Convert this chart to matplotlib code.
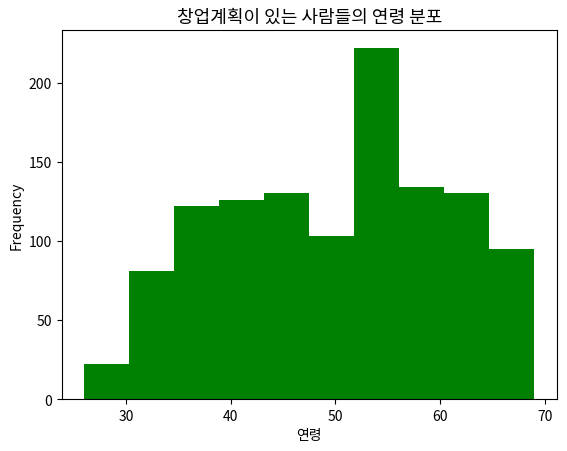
import matplotlib
matplotlib.use("Agg")
import matplotlib.pyplot as plt
import numpy as np

plt.rcParams['font.family'] = ['Noto Sans CJK KR', 'DejaVu Sans']
plt.rcParams['axes.unicode_minus'] = False

# histogram bins (edges) and counts
age_min, age_max = 26, 69
n_bins = 10
counts = [22, 81, 122, 126, 130, 103, 222, 134, 130, 95]

edges = np.linspace(age_min, age_max, n_bins + 1)
centers = (edges[:-1] + edges[1:]) / 2

fig = plt.figure(figsize=(5.67, 4.52), dpi=100)
ax = fig.add_axes([0.109, 0.115, 0.873, 0.816])
ax.hist(centers, bins=edges, weights=counts, color='green')
ax.set_title('창업계획이 있는 사람들의 연령 분포', fontsize=13)
ax.set_xlabel('연령')
ax.set_ylabel('Frequency')
ax.set_xticks([30, 40, 50, 60, 70])
ax.set_yticks([0, 50, 100, 150, 200])

fig.savefig('out.png', dpi=100)
